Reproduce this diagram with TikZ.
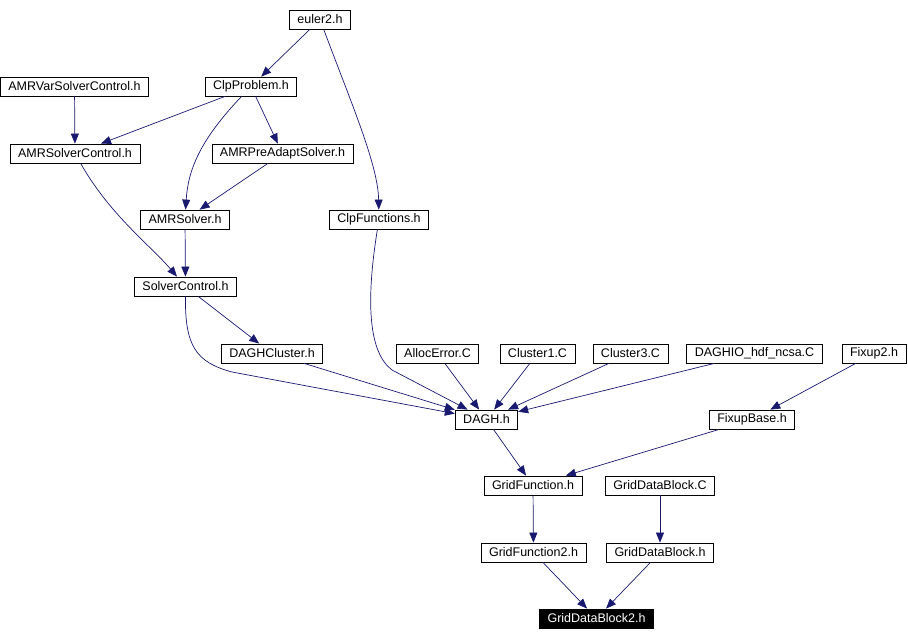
\documentclass[tikz,border=0pt]{standalone}
\usepackage{fontspec}
\setmainfont{Liberation Sans}
\usetikzlibrary{arrows.meta}
\definecolor{edgeblue}{HTML}{191970}

\begin{document}
\begin{tikzpicture}[x=1pt,y=-1pt,->,>={Triangle[length=10pt,width=8pt]},shorten >=0pt,edgeblue,line width=0.7pt,
  file node/.style={rectangle,draw=black,fill=white,text=black,line width=0.8pt,minimum height=19pt,inner xsep=8pt,inner ysep=0pt,font=\fontsize{12.5}{14}\selectfont},
  main file/.style={file node,fill=black,text=white}]
\useasboundingbox (0,0) rectangle (908,642);
\node[file node] (euler2) at (320.00,19.50) {euler2.h};
\node[file node] (clpproblem) at (251.00,86.50) {ClpProblem.h};
\node[file node] (amrvarsolvercontrol) at (74.50,86.50) {AMRVarSolverControl.h};
\node[file node] (amrsolvercontrol) at (75.00,153.50) {AMRSolverControl.h};
\node[file node] (amrpreadaptsolver) at (282.50,153.50) {AMRPreAdaptSolver.h};
\node[file node] (amrsolver) at (185.00,219.50) {AMRSolver.h};
\node[file node] (clpfunctions) at (379.00,219.50) {ClpFunctions.h};
\node[file node] (solvercontrol) at (185.50,286.50) {SolverControl.h};
\node[file node] (daghcluster) at (272.00,353.50) {DAGHCluster.h};
\node[file node] (allocerror) at (437.50,353.50) {AllocError.C};
\node[file node] (cluster1) at (537.50,353.50) {Cluster1.C};
\node[file node] (cluster3) at (630.50,353.50) {Cluster3.C};
\node[file node] (daghio) at (754.50,353.50) {DAGHIO\_hdf\_ncsa.C};
\node[file node] (fixup2) at (874.00,353.50) {Fixup2.h};
\node[file node] (dagh) at (486.50,419.50) {DAGH.h};
\node[file node] (fixupbase) at (752.00,419.50) {FixupBase.h};
\node[file node] (gridfunction) at (533.00,485.50) {GridFunction.h};
\node[file node] (griddatablockc) at (660.00,485.50) {GridDataBlock.C};
\node[file node] (gridfunction2) at (533.50,552.50) {GridFunction2.h};
\node[file node] (griddatablockh) at (660.00,552.50) {GridDataBlock.h};
\node[main file] (griddatablock2) at (596.50,618.50) {GridDataBlock2.h};
\path (euler2) edge (clpproblem);
\draw (euler2) .. controls (352,105) and (378,165) .. (clpfunctions);
\path (clpproblem) edge (amrsolvercontrol);
\draw (clpproblem) .. controls (200,140) and (188,170) .. (amrsolver);
\path (clpproblem) edge (amrpreadaptsolver);
\path (amrvarsolvercontrol) edge (amrsolvercontrol);
\path (amrpreadaptsolver) edge (amrsolver);
\draw (amrsolvercontrol) .. controls (110,215) and (150,245) .. (solvercontrol);
\path (amrsolver) edge (solvercontrol);
\path (solvercontrol) edge (daghcluster);
\draw (solvercontrol) .. controls (185,345) and (195,362) .. (232,372) -- (dagh);
\path (daghcluster) edge (dagh);
\draw (clpfunctions) .. controls (366,300) and (368,352) .. (392,370) -- (dagh);
\path (allocerror) edge (dagh);
\path (cluster1) edge (dagh);
\path (cluster3) edge (dagh);
\path (daghio) edge (dagh);
\path (fixup2) edge (fixupbase);
\path (fixupbase) edge (gridfunction);
\path (dagh) edge (gridfunction);
\path (gridfunction) edge (gridfunction2);
\path (griddatablockc) edge (griddatablockh);
\path (gridfunction2) edge (griddatablock2);
\path (griddatablockh) edge (griddatablock2);
\end{tikzpicture}
\end{document}
